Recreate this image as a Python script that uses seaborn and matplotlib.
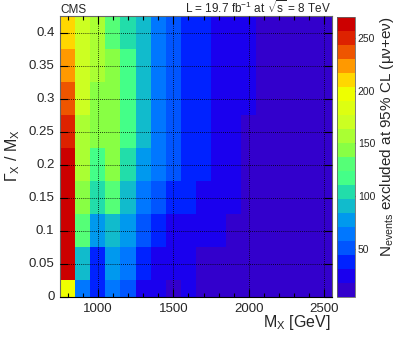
import numpy as np
import pandas as pd
import matplotlib
matplotlib.use('Agg')
import matplotlib.pyplot as plt
import seaborn as sns
from matplotlib.colors import ListedColormap

# Data: one row per width, one column per mass
masses = [800, 900, 1000, 1100, 1200, 1300, 1400, 1500, 1600,
          1700, 1800, 1900, 2000, 2100, 2200, 2300, 2400, 2500]
widths = [0.0, 0.05, 0.10, 0.15, 0.20, 0.25, 0.30, 0.35, 0.40]
width_labels = ['0', '0.05', '0.1', '0.15', '0.2', '0.25', '0.3', '0.35', '0.4']
mass_ticks = [1000, 1500, 2000, 2500]
cbar_ticks = [50, 100, 150, 200, 250]

n_events = [
    [198, 63, 35, 66, 50, 27, 22, 17, 19, 13, 11, 9, 8, 7, 6, 6, 5, 5],
    [268, 92, 42, 80, 63, 40, 26, 22, 22, 16, 15, 13, 11, 9, 8, 7, 7, 6],
    [270, 131, 78, 93, 77, 53, 38, 25, 26, 20, 19, 17, 14, 11, 10, 9, 8, 7],
    [266, 145, 103, 128, 90, 64, 52, 37, 34, 24, 21, 19, 15, 12, 11, 10, 9, 8],
    [262, 157, 118, 142, 104, 78, 62, 48, 40, 33, 24, 21, 16, 13, 12, 11, 10, 9],
    [249, 160, 143, 145, 116, 90, 64, 50, 41, 35, 26, 23, 17, 14, 13, 12, 11, 10],
    [237, 171, 146, 147, 119, 92, 66, 52, 42, 36, 27, 24, 19, 15, 14, 12, 11, 10],
    [224, 172, 156, 143, 118, 93, 67, 53, 42, 36, 28, 25, 20, 16, 14, 13, 12, 11],
    [211, 170, 158, 133, 106, 92, 67, 52, 41, 35, 28, 25, 20, 16, 15, 13, 12, 11],
]

z_min, z_max = 5, 270

# ROOT-like rainbow palette, 20 contour levels
palette = ['#3300cc', '#1a00ee', '#0022ff', '#0055ff', '#0077ff', '#0099ee',
           '#11bbcc', '#22ddaa', '#44ff88', '#55ff77', '#88ff44', '#aaff33',
           '#ccff22', '#ddff11', '#eeff00', '#ffd700', '#ff9900', '#ee5500',
           '#dd2200', '#cc0000']
cmap = ListedColormap(palette)

sns.set_theme(style='white')
plt.rcParams['font.family'] = ['Liberation Sans', 'DejaVu Sans']
plt.rcParams['mathtext.fontset'] = 'custom'
plt.rcParams['mathtext.rm'] = 'Liberation Sans'
plt.rcParams['mathtext.it'] = 'Liberation Sans:italic'
plt.rcParams['mathtext.bf'] = 'Liberation Sans:bold'

df = pd.DataFrame(n_events, index=widths, columns=masses)

W, H = 399, 349
fig = plt.figure(figsize=(W / 100, H / 100), dpi=100)
ax = fig.add_axes([60 / W, 52 / H, 272 / W, 281 / H])
cax = fig.add_axes([337 / W, 52.3 / H, 18 / W, 280 / H])

sns.heatmap(df, ax=ax, cbar_ax=cax, cmap=cmap, vmin=z_min, vmax=z_max,
            cbar_kws={'ticks': cbar_ticks})

mass_step = masses[1] - masses[0]
width_step = widths[1] - widths[0]


def xpos(m):
    return (m - masses[0]) / mass_step + 0.5


def ypos(g):
    return (g - widths[0]) / width_step + 0.5


ax.set_xlim(xpos(750), xpos(2550))
ax.set_ylim(ypos(0.0), ypos(0.425))

ax.set_xticks([xpos(m) for m in mass_ticks])
ax.set_xticklabels([str(m) for m in mass_ticks], rotation=0, fontsize=9.5)
ax.set_xticks([xpos(m) for m in masses], minor=True)
ax.set_yticks([ypos(g) for g in widths])
ax.set_yticklabels(width_labels, rotation=0, fontsize=9.5)

ax.tick_params(which='both', direction='in', top=True, right=True,
               bottom=True, left=True, color='black', width=0.8)
ax.tick_params(which='major', length=6, pad=4)
ax.tick_params(which='minor', length=3)

ax.grid(True, which='major', color='black', linestyle=(0, (1, 1.5)), linewidth=0.6)
ax.set_axisbelow(False)

for side, sp in ax.spines.items():
    sp.set_visible(True)
    sp.set_color('#666666')
    sp.set_linewidth(0.8)
ax.spines['bottom'].set_color('black')

ax.set_xlabel('')
ax.set_ylabel('')
fig.text(331 / W, 1 - 323 / H, r'M$_{\mathrm{X}}$ [GeV]', ha='right', va='center',
         fontsize=11.5)
fig.text(13 / W, 1 - 156 / H, r'$\Gamma_{\mathrm{X}}$ / M$_{\mathrm{X}}$',
         rotation=90, ha='center', va='center', fontsize=11.5)

cbar = ax.collections[0].colorbar
cbar.ax.tick_params(direction='in', length=8, width=0.8, color='black',
                    labelsize=7.5, pad=2)
cbar.outline.set_edgecolor('#666666')
cbar.outline.set_linewidth(0.6)
fig.text(387 / W, 1 - 16 / H, r'N$_{\mathrm{events}}$ excluded at 95% CL (μν+eν)',
         rotation=90, ha='center', va='top', fontsize=11)

fig.text(60 / W, 1 - 13 / H, 'CMS', ha='left', va='baseline', fontsize=8.5)
fig.text(331 / W, 1 - 13 / H, r'L = 19.7 fb$^{\mathrm{-1}}$ at $\sqrt{\mathrm{s}}$ = 8 TeV',
         ha='right', va='baseline', fontsize=8.5)

fig.savefig('out.png', dpi=100)
